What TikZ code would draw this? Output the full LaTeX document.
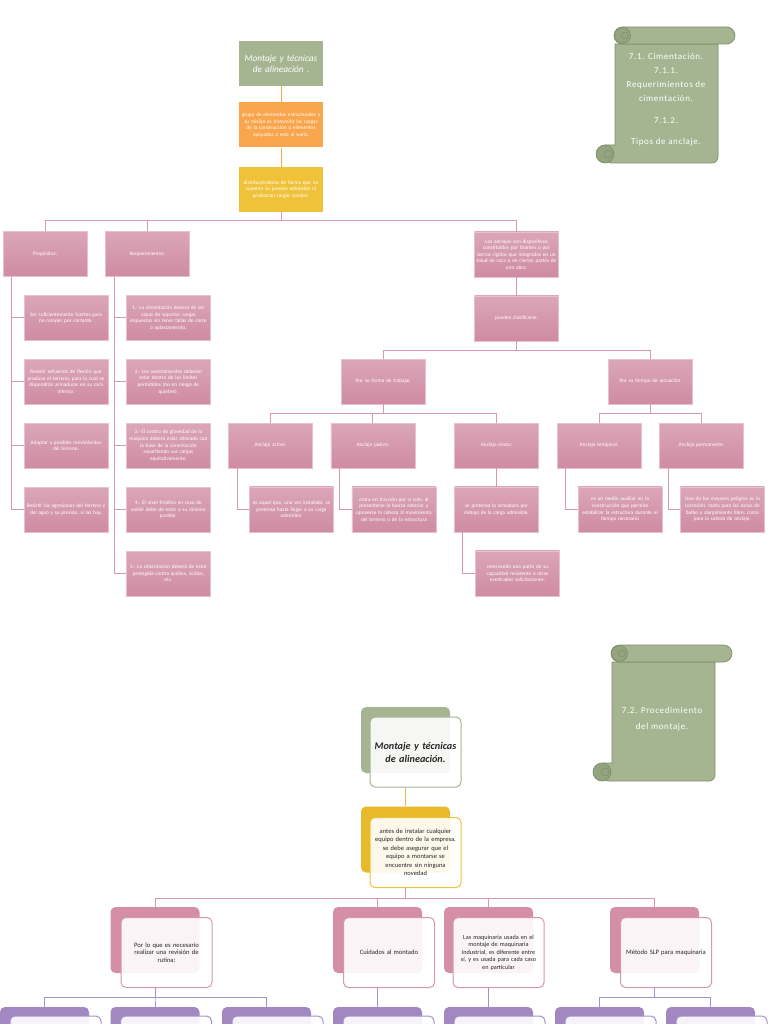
\documentclass[tikz,border=0pt]{standalone}
\usepackage{fontspec}
\setmainfont{Carlito}
\newfontfamily\scrollfont[LetterSpace=7]{Carlito}
\usetikzlibrary{positioning}
\definecolor{sage}{HTML}{A5B592}
\definecolor{sagedark}{HTML}{7E8E6C}
\definecolor{sagecurl}{HTML}{93A47F}
\definecolor{orangebox}{HTML}{F8A54B}
\definecolor{goldbox}{HTML}{F0C23A}
\definecolor{pinktop}{HTML}{DBA6B8}
\definecolor{pinkbot}{HTML}{CF8BA3}
\definecolor{pinkedge}{HTML}{E6C1CE}
\definecolor{pinkline}{HTML}{D598AE}
\definecolor{goldline}{HTML}{EFB84A}
\definecolor{pinkback}{HTML}{D48FA6}
\definecolor{goldback}{HTML}{E9B92C}
\definecolor{purpback}{HTML}{A287C2}
\definecolor{purpline}{HTML}{A393C6}

\tikzset{
    pics/scroll/.style={code={
        % body with bottom curl
        \path[fill=sage, draw=sagedark, line width=0.7pt]
            (0,17) -- (103,17) [rounded corners=6pt] -- (103,136) -- (-10,136)
            [sharp corners] -- (-10,118) -- (0,118) -- cycle;
        \path[fill=sagecurl, draw=sagedark, line width=0.7pt] (-10,127) circle[radius=9];
        \path[draw=sagedark, line width=0.5pt] (-7,127) circle[radius=4];
        % top roll
        \path[fill=sage, draw=sagedark, line width=0.7pt, rounded corners=8.5pt]
            (-1,0) rectangle (120,17);
        \path[fill=sagecurl, draw=sagedark, line width=0.7pt] (7.5,8.5) circle[radius=8];
        \path[draw=sagedark, line width=0.5pt] (10,8.5) circle[radius=3.5];
    }}
}

\begin{document}
\begin{tikzpicture}[
    x=1pt, y=-1pt,
    node distance=18.5pt,
    plain/.style={
        minimum width=84pt,
        minimum height=45pt,
        inner sep=1pt,
        text width=82pt,
        align=center,
        text=white,
        font=\fontsize{5.3}{6.6}\selectfont
    },
    head/.style={plain, fill=sage, font=\fontsize{9.3}{11}\selectfont\itshape},
    warm/.style={plain, fill=orangebox},
    gold/.style={plain, fill=goldbox},
    rose/.style={plain, draw=pinkedge, line width=0.4pt, top color=pinktop, bottom color=pinkbot},
    scrolltext/.style={align=center, text=white, font=\scrollfont\fontsize{9}{14}\selectfont},
    link/.style={draw=pinkline, line width=1pt},
    back/.style={minimum width=89pt, minimum height=66pt, rounded corners=5pt},
    front/.style={
        minimum width=91pt,
        minimum height=70pt,
        rounded corners=5pt,
        fill=white,
        fill opacity=0.9,
        text opacity=1,
        line width=1pt,
        inner sep=2pt,
        text width=87pt,
        align=center,
        text=black!85,
        font=\fontsize{6.6}{7.7}\selectfont
    },
    goldlink/.style={draw=goldline, line width=1pt},
    roselink/.style={draw=pinkline, line width=1pt},
    purplink/.style={draw=purpline, line width=1pt}
]
    \useasboundingbox (0,0) rectangle (768,1024);
    \clip (0,0) rectangle (768,1024);
    \fill[white] (0,0) rectangle (768,1024);

    % first sheet
    \node[head] (ttl) at (281,63.5) {Montaje y técnicas\\de alineación .};
    \node[warm, below=16pt of ttl] (org)
        {grupo de elementos estructurales y\\su misión es transmitir las cargas\\de la construcción o elementos\\apoyados a este al suelo.};
    \node[gold, below=19pt of org] (yel)
        {distribuyéndolas de forma que no\\superen su presión admisible ni\\produzcan cargas zonales.};

    \node[rose] (prop) at (45,254) {Propósitos:};
    \node[rose, right=18pt of prop] (req) {Requerimientos:};
    \node[rose] (anc) at (516.5,254.5)
        {Los anclajes son dispositivos\\constituidos por tirantes o por\\barras rígidas que integradas en un\\talud de roca o en ciertas partes de\\una obra.};
    \node[rose, below=of anc] (pue) {pueden clasificarse:};

    \node[rose, below=of prop, xshift=21pt] (p1) {Ser suficientemente fuertes para\\no romper por cortante.};
    \node[rose, below=of p1] (p2) {Resistir esfuerzos de flexión que\\produce el terreno, para lo cual se\\dispondrán armaduras en su cara\\inferior.};
    \node[rose, below=of p2] (p3) {Adaptar a posibles movimientos\\del terreno.};
    \node[rose, below=of p3] (p4) {Resistir las agresiones del terreno y\\del agua y su presión, si las hay.};

    \node[rose, below=of req, xshift=21pt] (r1) {1.- La cimentación deberá de ser\\capaz de soportar cargas\\impuestas sin tener fallas de corte\\o aplastamiento.};
    \node[rose, below=of r1] (r2) {2.- Los asentamientos deberán\\estar dentro de los límites\\permitidos (no en riesgo de\\quiebre).};
    \node[rose, below=of r2] (r3) {3.- El centro de gravedad de la\\maquina deberá estar alineado con\\la base de la cimentación\\repartiendo sus cargas\\equitativamente.};
    \node[rose, below=of r3] (r4) {4.- El nivel freático en caso de\\existir debe de estar a su mínimo\\posible.};
    \node[rose, below=of r4] (r5) {5.- La cimentación deberá de estar\\protegida contra aceites, ácidos,\\etc.};

    \node[rose] (forma) at (383,381.5) {Por su forma de trabajar};
    \node[rose] (tiempo) at (650,381.5) {Por su tiempo de actuación};

    \node[rose] (act) at (270.5,445.5) {Anclaje activo:};
    \node[rose, right=18pt of act] (pas) {Anclaje pasivo:};
    \node[rose] (mix) at (496.5,445.5) {Anclaje mixto:};
    \node[rose] (tmp) at (599,445.5) {Anclaje temporal:};
    \node[rose, right=18pt of tmp] (perm) {Anclaje permanente:};

    \node[rose, below=of act, xshift=21pt] (actc) {es aquel que, una vez instalado, se\\pretensa hasta llegar a su carga\\admisible.};
    \node[rose, below=of pas, xshift=21pt] (pasc) {entra en tracción por sí solo, al\\presentarse la fuerza exterior y\\oponerse la cabeza al movimiento\\del terreno o de la estructura};
    \node[rose, below=of mix] (mixc) {se pretensa la armadura por\\debajo de la carga admisible,};
    \node[rose, below=of mixc, xshift=21pt] (mixd) {reservando una parte de su\\capacidad resistente a otras\\eventuales solicitaciones.};
    \node[rose, below=of tmp, xshift=21pt] (tmpc) {es un medio auxiliar en la\\construcción que permite\\estabilizar la estructura durante el\\tiempo necesario};
    \node[rose, below=of perm, xshift=21pt] (permc) {Uno de los mayores peligros es la\\corrosión, tanto para las zonas de\\bulbo y alargamiento libre, como\\para la cabeza de anclaje.};

    \draw[goldlink, draw=orangebox] (ttl) -- (org);
    \draw[goldlink, draw=orangebox] (org) -- (yel);
    \draw[link] (yel.south) -- ++(0,9) -| (prop.north);
    \draw[link] (yel.south) -- ++(0,9) -| (req.north);
    \draw[link] (yel.south) -- ++(0,9) -| (anc.north);
    \foreach \kid in {p1,p2,p3,p4}
        \draw[link] ([xshift=9pt]prop.south west) |- (\kid.west);
    \foreach \kid in {r1,r2,r3,r4,r5}
        \draw[link] ([xshift=9pt]req.south west) |- (\kid.west);
    \draw[link] (anc) -- (pue);
    \draw[link] (pue.south) -- ++(0,9) -| (forma.north);
    \draw[link] (pue.south) -- ++(0,9) -| (tiempo.north);
    \draw[link] (forma.south) -- ++(0,9) -| (act.north);
    \draw[link] (forma.south) -- ++(0,9) -| (pas.north);
    \draw[link] (forma.south) -- ++(0,9) -| (mix.north);
    \draw[link] (tiempo.south) -- ++(0,9) -| (tmp.north);
    \draw[link] (tiempo.south) -- ++(0,9) -| (perm.north);
    \draw[link] ([xshift=9pt]act.south west) |- (actc.west);
    \draw[link] ([xshift=9pt]pas.south west) |- (pasc.west);
    \draw[link] (mix) -- (mixc);
    \draw[link] ([xshift=8pt]mixc.south west) |- (mixd.west);
    \draw[link] ([xshift=9pt]tmp.south west) |- (tmpc.west);
    \draw[link] ([xshift=9pt]perm.south west) |- (permc.west);

    \pic at (615,27) {scroll};
    \node[scrolltext] (scra) at (666,100)
        {7.1. Cimentación.\\7.1.1.\\Requerimientos de\\cimentación.\\[8pt]7.1.2.\\[7pt]Tipos de anclaje.};

    % second sheet
    \pic at (612,645) {scroll};
    \node[scrolltext, font=\scrollfont\fontsize{9}{15.5}\selectfont] (scrb) at (662,719)
        {7.2. Procedimiento\\del montaje.};

    \node[back, fill=sage] (mtitleback) at (405.5,740) {};
    \node[front, draw=sage, font=\fontsize{10.2}{13}\selectfont\bfseries\itshape]
        (mtitle) at ([shift={(10,12)}]mtitleback) {Montaje y técnicas\\de alineación.};
    \node[back, fill=goldback] (mnoteback) at (405.5,839.5) {};
    \node[front, draw=goldbox, font=\fontsize{6.5}{8.5}\selectfont]
        (mnote) at ([shift={(10,13)}]mnoteback)
        {antes de instalar cualquier\\equipo dentro de la empresa,\\se debe asegurar que el\\equipo a montarse se\\encuentre sin ninguna\\novedad};

    \node[back, fill=pinkback] (revback) at (155,940) {};
    \node[front, draw=pinkline] (rev) at ([shift={(11.5,12.5)}]revback)
        {Por lo que es necesario\\realizar una revisión de\\rutina:};
    \node[back, fill=pinkback] (cuidback) at (377.5,940) {};
    \node[front, draw=pinkline] (cuid) at ([shift={(11.5,12.5)}]cuidback) {Cuidados al montado};
    \node[back, fill=pinkback] (maqback) at (488.5,940) {};
    \node[front, draw=pinkline, font=\fontsize{6.2}{7.5}\selectfont] (maq) at ([shift={(10,12.5)}]maqback)
        {Las maquinaria usada en el\\montaje de maquinaria\\industrial, es diferente entre\\sí, y es usada para cada caso\\en particular};
    \node[back, fill=pinkback] (slpback) at (654.5,940) {};
    \node[front, draw=pinkline] (slp) at ([shift={(11.5,12.5)}]slpback) {Método SLP para maquinaria};

    \foreach \cx [count=\i] in {44.5,155,266.5,377.5,488.5,599.5,710.5} {
        \node[back, fill=purpback] (subback\i) at (\cx,1040) {};
        \node[front, draw=purpline] (sub\i) at ([shift={(11,11)}]subback\i) {};
    }

    \draw[goldlink] (mtitleback.south |- mtitle.south) -- (mnoteback.north);
    \foreach \kid in {revback,cuidback,maqback,slpback}
        \draw[roselink] (mnoteback.south |- mnote.south) -- ++(0,10) -| (\kid.north);
    \foreach \kid in {subback1,subback2,subback3}
        \draw[purplink] (revback.south |- rev.south) -- ++(0,9) -| (\kid.north);
    \draw[purplink] (cuidback.south |- cuid.south) -- (subback4.north);
    \draw[purplink] (maqback.south |- maq.south) -- (subback5.north);
    \foreach \kid in {subback6,subback7}
        \draw[purplink] (slpback.south |- slp.south) -- ++(0,9) -| (\kid.north);
\end{tikzpicture}
\end{document}
